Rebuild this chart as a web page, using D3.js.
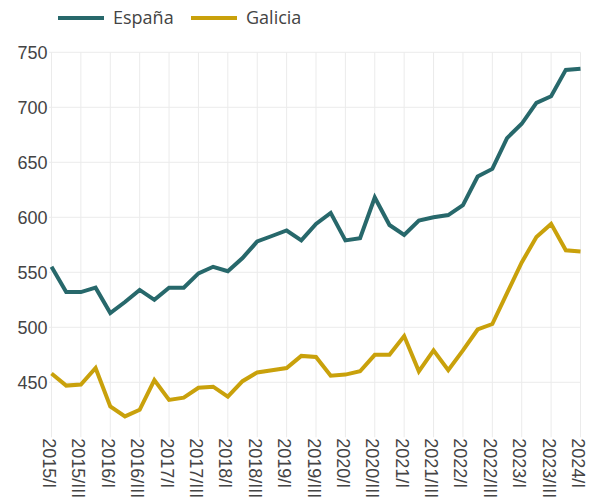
<!DOCTYPE html>
<html lang="en">
<head>
<meta charset="utf-8">
<title>España vs Galicia</title>
<script src="https://d3js.org/d3.v7.min.js"></script>
<style>
  body { margin: 0; background: #fff; }
  svg { font-family: "Open Sans", sans-serif; }
  .tick text { fill: #444; }
</style>
</head>
<body>
<svg width="595" height="502"></svg>
<script>
const quarters = [];
for (let y = 2015; y <= 2024; y++) {
  ["I", "II", "III", "IV"].forEach(q => quarters.push(y + "/" + q));
}
quarters.splice(37);

const espana = [555, 532, 532, 536, 513, 523, 534, 525, 536, 536, 549, 555, 551, 563, 578, 583,
  588, 579, 594, 604, 579, 581, 618, 593, 584, 597, 600, 602, 611, 637, 644, 672,
  685, 704, 710, 734, 735];
const galicia = [458, 447, 448, 463, 428, 419, 425, 452, 434, 436, 445, 446, 437, 451, 459, 461,
  463, 474, 473, 456, 457, 460, 475, 475, 492, 460, 479, 461, 479, 498, 503, 531,
  559, 582, 594, 570, 569];

const yTicks = [450, 500, 550, 600, 650, 700, 750];
const xTicks = quarters.filter((d, i) => i % 2 === 0);

const series = [
  { name: "España", values: espana, color: "#27686b" },
  { name: "Galicia", values: galicia, color: "#c9a10b" }
];

const svg = d3.select("svg");
const x = d3.scalePoint().domain(quarters).range([51.5, 580.5]);
const y = d3.scaleLinear().domain([400, 750]).range([437.3, 52.3]);

// grid
svg.append("g")
  .selectAll("line.h")
  .data(yTicks)
  .join("line")
  .attr("x1", 49).attr("x2", 580.5)
  .attr("y1", d => y(d)).attr("y2", d => y(d))
  .attr("stroke", "#ebebeb").attr("stroke-width", 1);

svg.append("g")
  .selectAll("line.v")
  .data(xTicks)
  .join("line")
  .attr("x1", d => x(d)).attr("x2", d => x(d))
  .attr("y1", y(750)).attr("y2", y(400))
  .attr("stroke", "#ebebeb").attr("stroke-width", 1);

// axes
const yAxis = svg.append("g")
  .attr("transform", "translate(51.5,0)")
  .call(d3.axisLeft(y).tickValues(yTicks).tickSize(0).tickPadding(4));
yAxis.select(".domain").remove();
yAxis.selectAll("text").style("font-size", "18px");

const xAxis = svg.append("g")
  .attr("transform", "translate(0," + y(400) + ")")
  .call(d3.axisBottom(x).tickValues(xTicks).tickSize(0));
xAxis.select(".domain").remove();
xAxis.selectAll("text")
  .style("font-size", "18px")
  .attr("text-anchor", "start")
  .attr("transform", "rotate(90)")
  .attr("x", 1).attr("y", 0).attr("dy", "0.5em");

// lines
const line = d3.line()
  .x((d, i) => x(quarters[i]))
  .y(d => y(d));

svg.append("g")
  .selectAll("path")
  .data(series)
  .join("path")
  .attr("d", d => line(d.values))
  .attr("fill", "none")
  .attr("stroke", d => d.color)
  .attr("stroke-width", 4)
  .attr("stroke-linejoin", "miter");

// legend
const legend = svg.append("g")
  .selectAll("g")
  .data(series)
  .join("g")
  .attr("transform", (d, i) => "translate(" + (58 + i * 133) + ",18)");
legend.append("line")
  .attr("x1", 0).attr("x2", 46)
  .attr("stroke", d => d.color).attr("stroke-width", 4);
legend.append("text")
  .attr("x", 55).attr("dy", "0.35em")
  .attr("fill", "#444")
  .style("font-size", "18px")
  .text(d => d.name);
</script>
</body>
</html>
